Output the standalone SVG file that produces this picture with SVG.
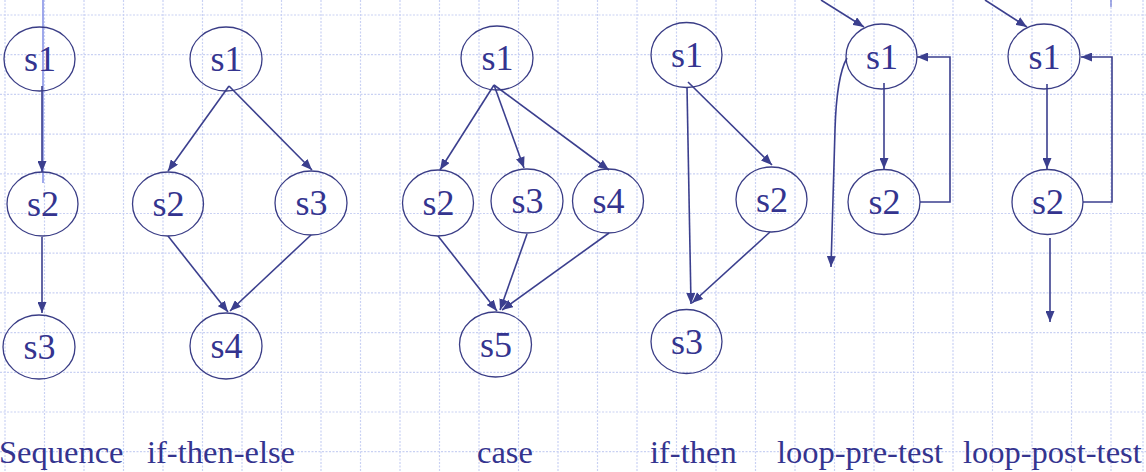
<svg xmlns="http://www.w3.org/2000/svg" width="1146" height="472" viewBox="0 0 1146 472">
<style>
.grid line{stroke:#c9d1f3;stroke-width:1.2;stroke-dasharray:2 1.5}
.node ellipse{fill:none;stroke:#3a3d86;stroke-width:1.3}
.node text{font-family:"Liberation Serif","Times New Roman",serif;font-size:36px;fill:#34348f;text-anchor:middle}
.edges path,.edges line{fill:none;stroke:#3b3f8e;stroke-width:1.6}
.arr{marker-end:url(#ah)}
.label{font-family:"Liberation Serif","Times New Roman",serif;font-size:32.5px;fill:#34348f}
</style>
<defs>
<marker id="ah" markerUnits="userSpaceOnUse" markerWidth="11" markerHeight="9" refX="11" refY="4.5" orient="auto">
<path d="M0,0 L11,4.5 L0,9 z" fill="#3b3f8e"/>
</marker>
</defs>
<rect width="1146" height="472" fill="#ffffff"/>
<g class="grid">
<line x1="5" y1="0" x2="5" y2="472"/>
<line x1="44.5" y1="0" x2="44.5" y2="472"/>
<line x1="84" y1="0" x2="84" y2="472"/>
<line x1="123.5" y1="0" x2="123.5" y2="472"/>
<line x1="163" y1="0" x2="163" y2="472"/>
<line x1="202.5" y1="0" x2="202.5" y2="472"/>
<line x1="242" y1="0" x2="242" y2="472"/>
<line x1="281.5" y1="0" x2="281.5" y2="472"/>
<line x1="321" y1="0" x2="321" y2="472"/>
<line x1="360.5" y1="0" x2="360.5" y2="472"/>
<line x1="400" y1="0" x2="400" y2="472"/>
<line x1="439.5" y1="0" x2="439.5" y2="472"/>
<line x1="479" y1="0" x2="479" y2="472"/>
<line x1="518.5" y1="0" x2="518.5" y2="472"/>
<line x1="558" y1="0" x2="558" y2="472"/>
<line x1="597.5" y1="0" x2="597.5" y2="472"/>
<line x1="637" y1="0" x2="637" y2="472"/>
<line x1="676.5" y1="0" x2="676.5" y2="472"/>
<line x1="716" y1="0" x2="716" y2="472"/>
<line x1="755.5" y1="0" x2="755.5" y2="472"/>
<line x1="795" y1="0" x2="795" y2="472"/>
<line x1="834.5" y1="0" x2="834.5" y2="472"/>
<line x1="874" y1="0" x2="874" y2="472"/>
<line x1="913.5" y1="0" x2="913.5" y2="472"/>
<line x1="953" y1="0" x2="953" y2="472"/>
<line x1="992.5" y1="0" x2="992.5" y2="472"/>
<line x1="1032" y1="0" x2="1032" y2="472"/>
<line x1="1071.5" y1="0" x2="1071.5" y2="472"/>
<line x1="1111" y1="0" x2="1111" y2="472"/>
<line x1="1143" y1="0" x2="1143" y2="472"/>
<line x1="0" y1="15" x2="1146" y2="15"/>
<line x1="0" y1="54.7" x2="1146" y2="54.7"/>
<line x1="0" y1="94.4" x2="1146" y2="94.4"/>
<line x1="0" y1="134.1" x2="1146" y2="134.1"/>
<line x1="0" y1="173.8" x2="1146" y2="173.8"/>
<line x1="0" y1="213.5" x2="1146" y2="213.5"/>
<line x1="0" y1="253.2" x2="1146" y2="253.2"/>
<line x1="0" y1="292.9" x2="1146" y2="292.9"/>
<line x1="0" y1="332.6" x2="1146" y2="332.6"/>
<line x1="0" y1="372.3" x2="1146" y2="372.3"/>
<line x1="0" y1="412" x2="1146" y2="412"/>
<line x1="0" y1="451.7" x2="1146" y2="451.7"/>
</g>
<line x1="43" y1="0" x2="43" y2="183" stroke="#8793e6" stroke-width="1.6"/>
<line x1="1111" y1="0" x2="1111" y2="7" stroke="#6f7bd6" stroke-width="1.2"/>

<g class="edges">
<!-- sequence -->
<line class="arr" x1="42" y1="86" x2="42" y2="172"/>
<line class="arr" x1="42" y1="237" x2="42" y2="313"/>
<!-- if-then-else -->
<line class="arr" x1="229" y1="86" x2="168" y2="171"/>
<line class="arr" x1="229" y1="86" x2="312" y2="170"/>
<line class="arr" x1="168" y1="236" x2="228" y2="312"/>
<line class="arr" x1="311" y1="235" x2="230" y2="311"/>
<!-- case -->
<line class="arr" x1="494" y1="85" x2="440" y2="170"/>
<line class="arr" x1="494" y1="85" x2="524" y2="168"/>
<line class="arr" x1="494" y1="85" x2="609" y2="170"/>
<line class="arr" x1="438" y1="236" x2="497" y2="311"/>
<line class="arr" x1="527" y1="234" x2="500" y2="310"/>
<line class="arr" x1="609" y1="233" x2="502" y2="310"/>
<!-- if-then -->
<line class="arr" x1="687" y1="87" x2="691" y2="304"/>
<line class="arr" x1="688" y1="82" x2="772" y2="165"/>
<line class="arr" x1="770" y1="232" x2="692" y2="303"/>
<!-- loop-pre-test -->
<line class="arr" x1="821" y1="0" x2="864" y2="27"/>
<line class="arr" x1="884" y1="83" x2="884" y2="169"/>
<path class="arr" d="M920,202 L950,202 L950,57 L917,57"/>
<path class="arr" d="M847,58 C839,72 836,95 835,130 L831,267"/>
<!-- loop-post-test -->
<line class="arr" x1="985" y1="0" x2="1027" y2="27"/>
<line class="arr" x1="1047" y1="84" x2="1047" y2="169"/>
<path class="arr" d="M1083,202 L1112,202 L1112,57 L1081,57"/>
<line class="arr" x1="1050" y1="238" x2="1050" y2="322"/>
</g>

<g id="seq-s1" class="node"><ellipse cx="39.5" cy="59" rx="35.5" ry="32"/><text x="40" y="71">s1</text></g>
<g id="seq-s2" class="node"><ellipse cx="42.5" cy="204" rx="35.5" ry="32"/><text x="43" y="216">s2</text></g>
<g id="seq-s3" class="node"><ellipse cx="39" cy="347" rx="36" ry="32"/><text x="39.5" y="359">s3</text></g>

<g id="ite-s1" class="node"><ellipse cx="226" cy="59" rx="36" ry="32"/><text x="226.5" y="71">s1</text></g>
<g id="ite-s2" class="node"><ellipse cx="168" cy="204" rx="35.5" ry="32"/><text x="168.5" y="216">s2</text></g>
<g id="ite-s3" class="node"><ellipse cx="311" cy="203" rx="36" ry="32"/><text x="311.5" y="215">s3</text></g>
<g id="ite-s4" class="node"><ellipse cx="226" cy="346" rx="36" ry="33"/><text x="226.5" y="358">s4</text></g>

<g id="case-s1" class="node"><ellipse cx="497" cy="58" rx="36" ry="32"/><text x="497.5" y="70">s1</text></g>
<g id="case-s2" class="node"><ellipse cx="438" cy="203" rx="35.5" ry="33"/><text x="438.5" y="215">s2</text></g>
<g id="case-s3" class="node"><ellipse cx="527" cy="201" rx="36" ry="32"/><text x="527.5" y="213">s3</text></g>
<g id="case-s4" class="node"><ellipse cx="608" cy="201" rx="35.5" ry="32"/><text x="608.5" y="213">s4</text></g>
<g id="case-s5" class="node"><ellipse cx="495.5" cy="344.5" rx="36" ry="32.5"/><text x="496" y="356.5">s5</text></g>

<g id="it-s1" class="node"><ellipse cx="686.5" cy="55" rx="35.5" ry="32.5"/><text x="687" y="67">s1</text></g>
<g id="it-s2" class="node"><ellipse cx="771.5" cy="199.5" rx="35.5" ry="32.5"/><text x="772" y="211.5">s2</text></g>
<g id="it-s3" class="node"><ellipse cx="686.5" cy="341.5" rx="35.5" ry="32"/><text x="687" y="353.5">s3</text></g>

<g id="pre-s1" class="node"><ellipse cx="881.5" cy="56.5" rx="35.5" ry="32.5"/><text x="882" y="68.5">s1</text></g>
<g id="pre-s2" class="node"><ellipse cx="884" cy="202" rx="36" ry="32.5"/><text x="884.5" y="214">s2</text></g>

<g id="post-s1" class="node"><ellipse cx="1044" cy="56.5" rx="36" ry="32.5"/><text x="1044.5" y="68.5">s1</text></g>
<g id="post-s2" class="node"><ellipse cx="1047.5" cy="202" rx="35.5" ry="32.5"/><text x="1048" y="214">s2</text></g>

<g id="labels">
<text class="label" x="-1" y="463">Sequence</text>
<text class="label" x="147" y="463">if-then-else</text>
<text class="label" x="477" y="463">case</text>
<text class="label" x="650" y="463">if-then</text>
<text class="label" x="777" y="463">loop-pre-test</text>
<text class="label" x="963" y="463">loop-post-test</text>
</g>
</svg>
